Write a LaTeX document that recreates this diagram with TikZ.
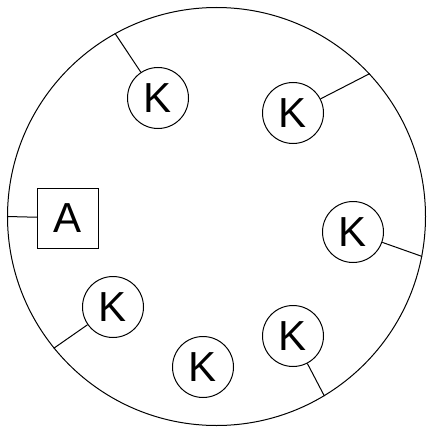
\documentclass[tikz,border=0pt]{standalone}
\usepackage{fontspec}
\setmainfont{Liberation Sans}
\begin{document}
\begin{tikzpicture}[x=1pt,y=-1pt,
  kcirc/.style={draw,circle,minimum size=61pt,inner sep=0pt,line width=1pt,font=\fontsize{42}{42}\selectfont},
  abox/.style={draw,rectangle,minimum width=61pt,minimum height=60pt,inner sep=0pt,line width=1pt,font=\fontsize{42}{42}\selectfont},
  conn/.style={line width=1pt}]
\useasboundingbox (0,0) rectangle (427,428);
\node[draw,circle,minimum size=418pt,inner sep=0pt,line width=1pt] (big) at (216.5,216.5) {};
\node[abox] (A) at (68,218) {A};
\node[kcirc] (k1) at (158,98) {K};
\node[kcirc] (k2) at (293,113) {K};
\node[kcirc] (k3) at (353,232) {K};
\node[kcirc] (k4) at (113,307) {K};
\node[kcirc] (k5) at (203,367) {K};
\node[kcirc] (k6) at (293,336) {K};
\coordinate (pA) at (big.180);
\coordinate (p1) at (big.119.6);
\coordinate (p2) at (big.43.8);
\coordinate (p3) at (big.-11.6);
\coordinate (p4) at (big.219.5);
\coordinate (p6) at (big.-59.4);
\draw[conn] (A) -- (pA);
\draw[conn] (k1) -- (p1);
\draw[conn] (k2) -- (p2);
\draw[conn] (k3) -- (p3);
\draw[conn] (k4) -- (p4);
\draw[conn] (k6) -- (p6);
\end{tikzpicture}
\end{document}
